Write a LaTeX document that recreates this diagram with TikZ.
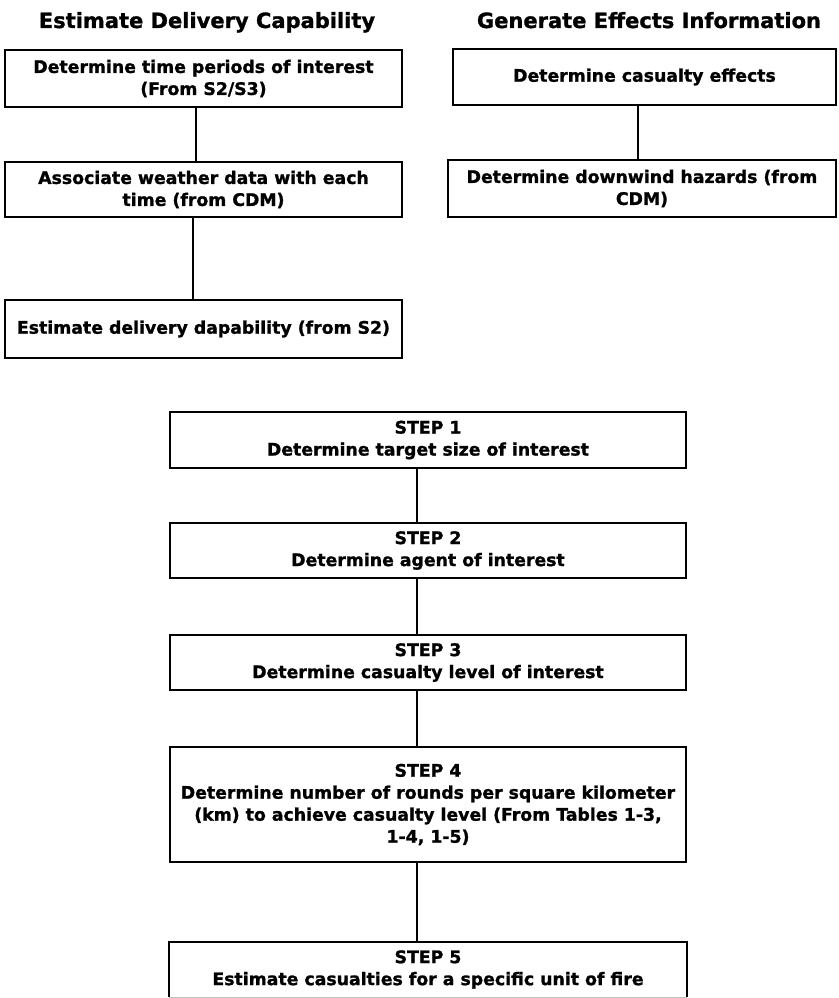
\documentclass[tikz,border=0pt]{standalone}
\usepackage{fontspec}
\setmainfont{DejaVu Sans}[BoldFeatures={FakeBold=1.2}]
\newcommand{\mybody}{\bfseries\fontsize{17.3}{22}\selectfont}
\newcommand{\mytitle}{\bfseries\fontsize{21}{24}\selectfont}
\begin{document}
\begin{tikzpicture}[x=1pt,y=-1pt,
  box/.style={draw,line width=2pt,inner sep=0pt,align=center,font=\mybody},
  link/.style={line width=2pt},
  ttl/.style={font=\mytitle,inner sep=0pt,anchor=base}]
\useasboundingbox (0,0) rectangle (838,998);

% titles
\node[ttl] (T1) at (207,28) {Estimate Delivery Capability};
\node[ttl] (T2) at (649,28) {Generate Effects Information};

% left column
\node[box,minimum width=397pt,minimum height=57pt] (L1) at (203.5,78.5)
  {Determine time periods of interest\\(From S2/S3)};
\node[box,minimum width=397pt,minimum height=55pt] (L2) at (203.5,189.5)
  {Associate weather data with each\\time (from CDM)};
\node[box,minimum width=397pt,minimum height=58pt] (L3) at (203.5,329)
  {Estimate delivery dapability (from S2)};

% right column
\node[box,minimum width=383pt,minimum height=56pt] (R1) at (644.5,77)
  {Determine casualty effects};
\node[box,minimum width=388pt,minimum height=57pt] (R2) at (642,188.5)
  {Determine downwind hazards (from\\CDM)};

% steps
\node[box,minimum width=516pt,minimum height=56pt] (S1) at (428,440)
  {STEP 1\\Determine target size of interest};
\node[box,minimum width=516pt,minimum height=55pt] (S2) at (428,550.5)
  {STEP 2\\Determine agent of interest};
\node[box,minimum width=516pt,minimum height=55pt] (S3) at (428,662.5)
  {STEP 3\\Determine casualty level of interest};
\node[box,minimum width=516pt,minimum height=115pt] (S4) at (428,804.5)
  {STEP 4\\Determine number of rounds per square kilometer\\(km) to achieve casualty level (From Tables 1-3,\\1-4, 1-5)};
\node[box,draw=none,minimum width=516pt,minimum height=53pt] (S5) at (428,969.5)
  {STEP 5\\Estimate casualties for a specific unit of fire};
\draw[link] (S5.south west) -- (S5.north west) -- (S5.north east) -- (S5.south east);
\draw[line width=1pt,black!25] (S5.south west) -- (S5.south east);

% connector columns
\coordinate (cxa) at (196,0);
\coordinate (cxb) at (193,0);
\coordinate (cxc) at (638,0);
\coordinate (cxd) at (417,0);

\draw[link] (L1.south -| cxa) -- (L2.north -| cxa);
\draw[link] (L2.south -| cxb) -- (L3.north -| cxb);
\draw[link] (R1.south -| cxc) -- (R2.north -| cxc);
\draw[link] (S1.south -| cxd) -- (S2.north -| cxd);
\draw[link] (S2.south -| cxd) -- (S3.north -| cxd);
\draw[link] (S3.south -| cxd) -- (S4.north -| cxd);
\draw[link] (S4.south -| cxd) -- (S5.north -| cxd);
\end{tikzpicture}
\end{document}
